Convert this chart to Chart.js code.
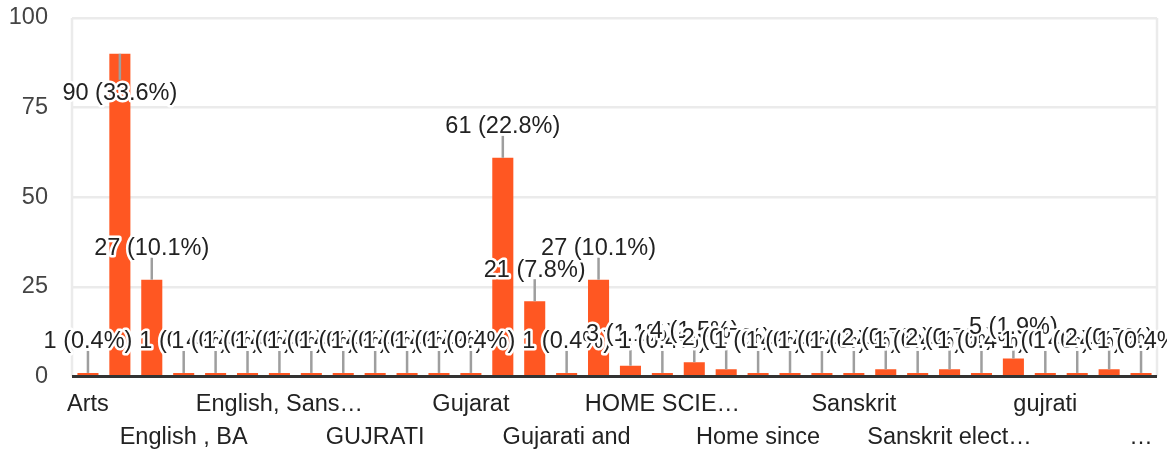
<!DOCTYPE html>
<html>
<head>
<meta charset="utf-8">
<script src="https://cdn.jsdelivr.net/npm/chart.js@4/dist/chart.umd.min.js"></script>
<style>
  html, body { margin: 0; padding: 0; background: #fff; }
  #wrap { width: 1167px; height: 453px; position: relative; }
</style>
</head>
<body>
<div id="wrap"><canvas id="c"></canvas></div>
<script>
const categories = [
  "Arts", "BA", "English", "English , BA", "English , Gujarati", "English Literature",
  "English, Sanskrit", "Ethics", "GUJARATI", "GUJRATI", "Geography", "Guajarati",
  "Gujarat", "Gujarati", "Gujarati , Hindi", "Gujarati and", "Gujarati, Sanskrit", "HISTORY",
  "HOME SCIENCE", "Hindi", "History", "Home since", "Political science", "Psychology",
  "Sanskrit", "Sanskrit , English", "Sanskrit and Gujarati", "Sanskrit elective", "Sociology", "gujarati",
  "gujrati", "hindi", "sanskrit", "sanskrit, gujarati, english"
];
const counts = [
  1, 90, 27, 1, 1, 1,
  1, 1, 1, 1, 1, 1,
  1, 61, 21, 1, 27, 3,
  1, 4, 2, 1, 1, 1,
  1, 2, 1, 2, 1, 5,
  1, 1, 2, 1
];
// labels shown on the axis, one for every third category
const tickLabels = ["Arts", "English , BA", "English, Sans…", "GUJRATI", "Gujarat", "Gujarati and",
  "HOME SCIE…", "Home since", "Sanskrit", "Sanskrit elect…", "gujrati", "…"];
const yTicks = [0, 25, 50, 75, 100];

const total = counts.reduce((a, b) => a + b, 0);
const FONT = "'Liberation Sans', Arial, sans-serif";
const FS = 23.5;

const annotPlugin = {
  id: 'annot',
  beforeDatasetsDraw(chart) {
    const { ctx, chartArea } = chart;
    ctx.save();
    ctx.strokeStyle = '#ebebeb';
    ctx.lineWidth = 2.5;
    ctx.beginPath();
    ctx.moveTo(chartArea.left, chartArea.top);
    ctx.lineTo(chartArea.left, chartArea.bottom);
    ctx.moveTo(chartArea.right, chartArea.top);
    ctx.lineTo(chartArea.right, chartArea.bottom);
    ctx.stroke();
    ctx.restore();
  },
  afterDatasetsDraw(chart) {
    const { ctx, chartArea } = chart;
    const meta = chart.getDatasetMeta(0);
    const ys = chart.scales.y;
    ctx.save();
    const pos = meta.data.map((bar) => {
      const top = bar.y;
      const below = top - 33 - FS / 2 < chartArea.top;
      return {
        x: bar.x,
        ly: below ? top + 40 : top - 31,
        s0: below ? top : top - 22,
        s1: below ? top + 26 : top
      };
    });
    ctx.strokeStyle = '#9e9e9e';
    ctx.lineWidth = 2.5;
    pos.forEach(p => {
      ctx.beginPath();
      ctx.moveTo(p.x, p.s0);
      ctx.lineTo(p.x, p.s1);
      ctx.stroke();
    });
    // zero line
    const y0 = ys.getPixelForValue(0);
    ctx.strokeStyle = '#333';
    ctx.lineWidth = 3;
    ctx.beginPath();
    ctx.moveTo(chartArea.left, y0);
    ctx.lineTo(chartArea.right, y0);
    ctx.stroke();

    ctx.font = FS + 'px ' + FONT;
    ctx.textAlign = 'center';
    ctx.textBaseline = 'middle';
    ctx.lineJoin = 'round';
    pos.forEach((p, i) => {
      const txt = counts[i] + ' (' + (counts[i] / total * 100).toFixed(1) + '%)';
      ctx.strokeStyle = '#fff';
      ctx.lineWidth = 5;
      ctx.strokeText(txt, p.x, p.ly);
      ctx.fillStyle = '#222';
      ctx.fillText(txt, p.x, p.ly);
    });
    ctx.restore();
  }
};

new Chart(document.getElementById('c'), {
  type: 'bar',
  data: {
    labels: categories,
    datasets: [{
      data: counts,
      backgroundColor: '#ff5722',
      borderWidth: 0,
      categoryPercentage: 1,
      barPercentage: 0.66
    }]
  },
  options: {
    responsive: true,
    maintainAspectRatio: false,
    animation: false,
    layout: { padding: { top: 18, right: 10, left: 0, bottom: 0 } },
    plugins: { legend: { display: false }, tooltip: { enabled: false } },
    scales: {
      x: {
        type: 'category',
        offset: true,
        grid: { display: false, drawTicks: false },
        border: { display: false },
        afterFit: (scale) => { scale.height = 76.5; },
        ticks: {
          autoSkip: false,
          maxRotation: 0,
          minRotation: 0,
          padding: 12,
          color: '#222',
          font: { family: FONT, size: FS, lineHeight: 33 / FS },
          callback: function (value, index) {
            if (index % 3 !== 0) return '';
            const k = index / 3;
            const t = tickLabels[k];
            return k % 2 === 1 ? ['', t] : t;
          }
        }
      },
      y: {
        min: 0,
        max: 100,
        afterBuildTicks: (scale) => { scale.ticks = yTicks.map(v => ({ value: v })); },
        afterFit: (scale) => { scale.width = 72; scale.paddingTop = 0; scale.paddingBottom = 0; },
        grid: { color: '#ebebeb', lineWidth: 2.5, drawTicks: false },
        border: { display: false },
        ticks: {
          padding: 24,
          color: '#444',
          font: { family: FONT, size: FS }
        }
      }
    }
  },
  plugins: [annotPlugin]
});
</script>
</body>
</html>
